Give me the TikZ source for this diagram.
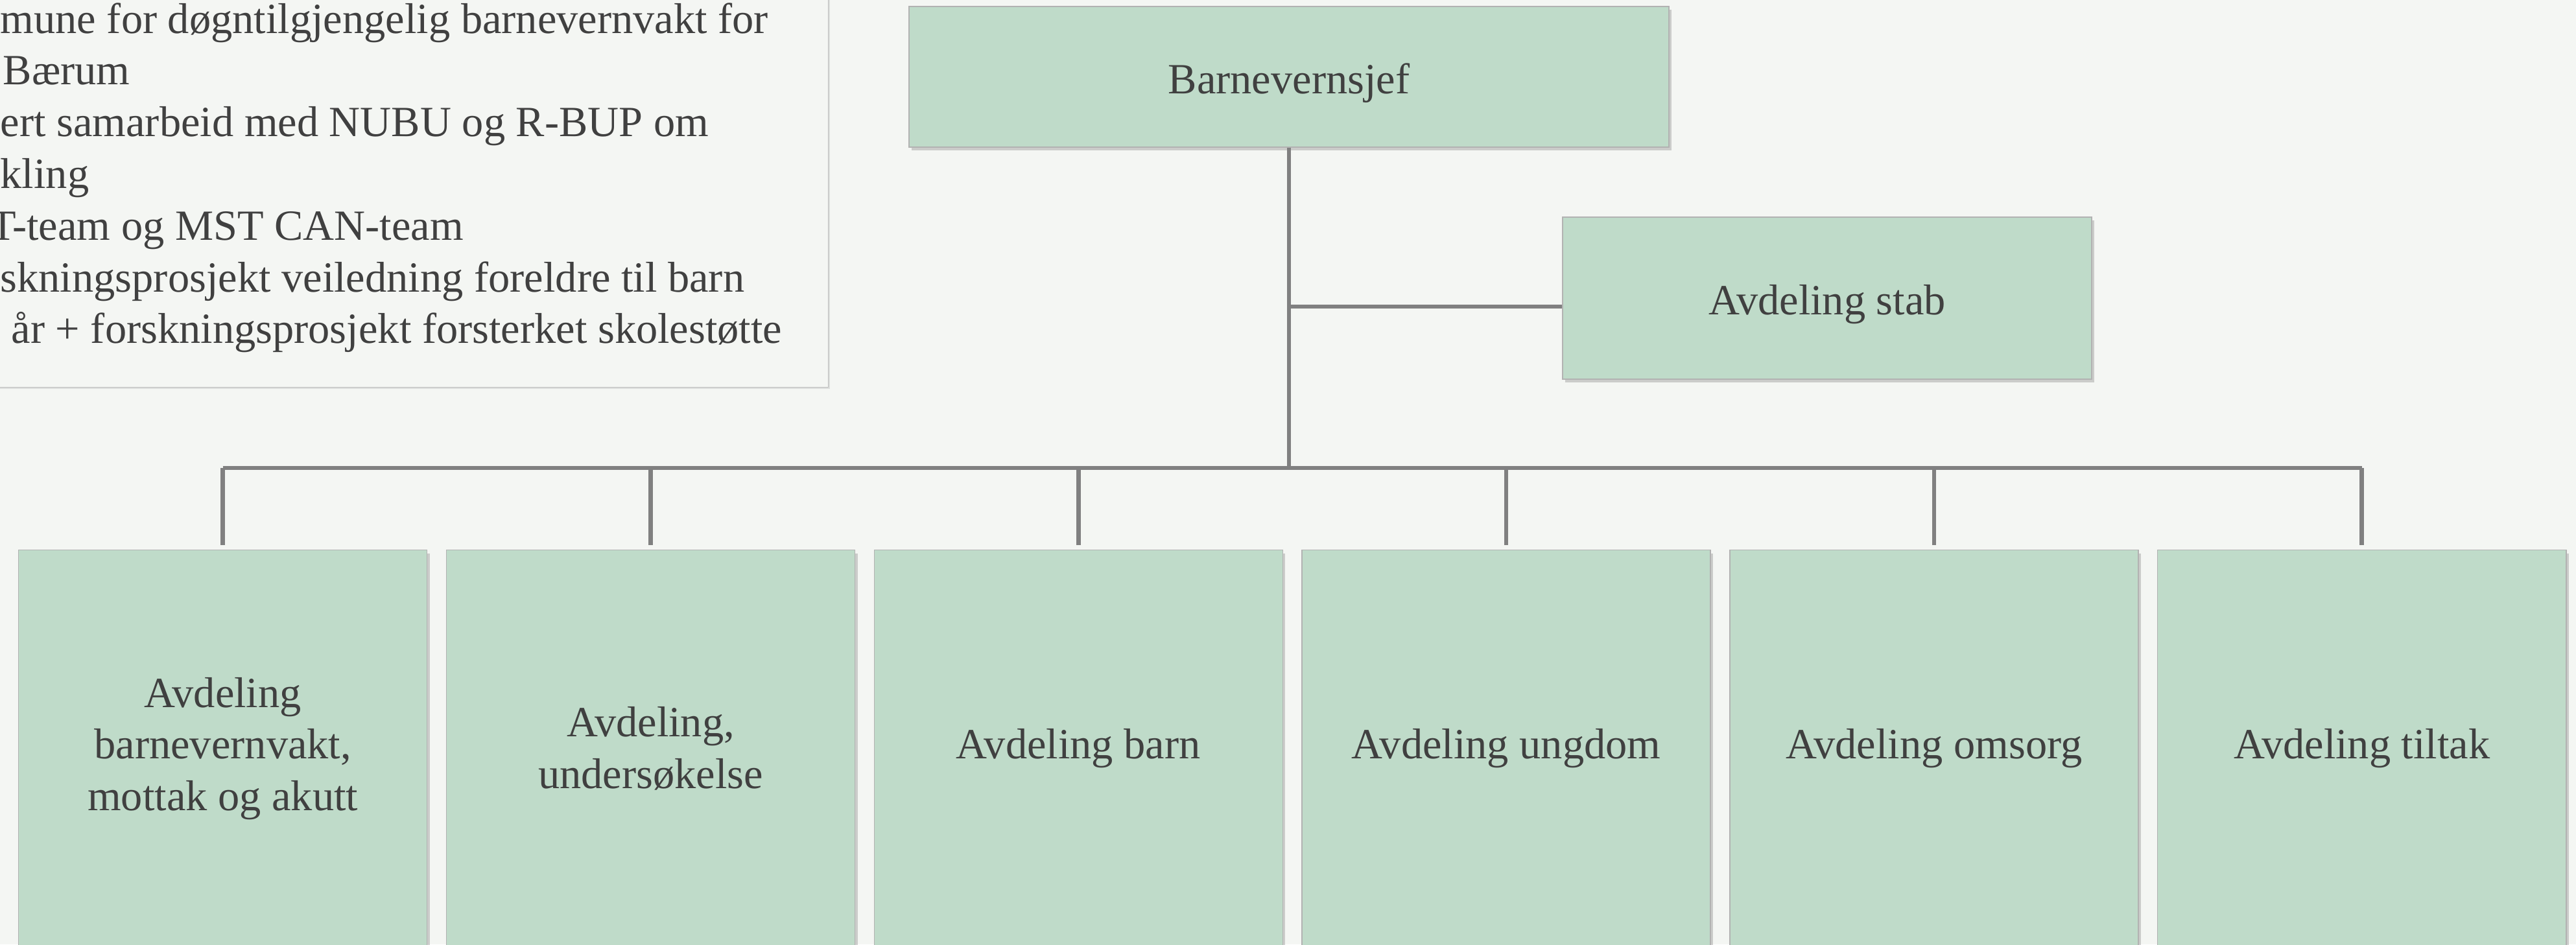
\documentclass[tikz,border=0pt]{standalone}
\usepackage{fontspec}
\setmainfont{Liberation Serif}
\usetikzlibrary{positioning, shadows}
\definecolor{boxgreen}{RGB}{191,219,201}
\definecolor{pagebg}{RGB}{244,246,243}
\definecolor{textgray}{RGB}{64,64,64}
\definecolor{linegray}{RGB}{128,128,128}

\begin{document}
\begin{tikzpicture}[unit/.style={rectangle, draw=gray!60, fill=boxgreen, text=textgray, align=center, inner sep=0mm,
        font=\fontsize{18.9}{22.6}\selectfont, drop shadow={shadow xshift=0.04cm, shadow yshift=-0.05cm, opacity=0.35}},
        dept/.style={unit, minimum width=6.3cm, minimum height=6.12cm},
        branch/.style={draw=linegray, line width=1.9pt}]
        \useasboundingbox (0,0) rectangle (39.73,-14.57);
        \fill[pagebg] (0,0) rectangle (39.73,-14.57);
        \clip (0,0) rectangle (39.73,-14.57);
        % note box, cut at the left edge
        \node (note) [rectangle, draw=gray!50, fill=pagebg, minimum width=14cm, minimum height=7cm, anchor=south east,
            drop shadow={shadow xshift=0.03cm, shadow yshift=-0.03cm, opacity=0.2}] at (12.78,-5.98) {};
        \foreach \dx/\txt [count=\i] in {0/mune for døgntilgjengelig barnevernvakt for, 0.04/Bærum,
            0/ert samarbeid med NUBU og R-BUP om, 0/kling, -0.16/T-team og MST CAN-team,
            0/skningsprosjekt veiledning foreldre til barn, 0.17/år + forskningsprosjekt forsterket skolestøtte}
            \node (note\i) [anchor=base west, text=textgray, inner sep=0mm, font=\fontsize{18.9}{22.6}\selectfont]
                at (\dx, {-0.51-0.7983*(\i-1)}) {\txt};
        % top of the chart
        \node (chief) [unit, minimum width=11.72cm, minimum height=2.17cm] at (19.88,-1.185)
            {\raisebox{-0.1cm}[\height][\depth]{Barnevernsjef}};
        \node (staff) [unit, minimum width=8.16cm, minimum height=2.5cm] at (28.18,-4.60)
            {\raisebox{-0.1cm}[\height][\depth]{Avdeling stab}};
        % departments
        \node (vakt) [dept, anchor=north west] at (0.28,-8.48) {Avdeling\\barnevernvakt,\\mottak og akutt};
        \node (unders) [dept, right=0.284cm of vakt] {Avdeling,\\undersøkelse};
        \node (barn) [dept, right=0.284cm of unders] {Avdeling barn};
        \node (ungdom) [dept, right=0.284cm of barn] {Avdeling ungdom};
        \node (omsorg) [dept, right=0.284cm of ungdom] {Avdeling omsorg};
        \node (tiltak) [dept, right=0.284cm of omsorg] {Avdeling tiltak};
        \coordinate (bar) at (0,-7.22);
        \draw[branch] (chief.south) -- (chief.south |- bar);
        \draw[branch] ([yshift=-0.13cm]chief.south |- staff.west) -- ([yshift=-0.13cm]staff.west);
        \draw[branch] (vakt.north |- bar) -- (tiltak.north |- bar);
        \foreach \d in {vakt, unders, barn, ungdom, omsorg, tiltak}
            \draw[branch] (\d.north |- bar) -- ([yshift=0.07cm]\d.north);
\end{tikzpicture}
\end{document}
